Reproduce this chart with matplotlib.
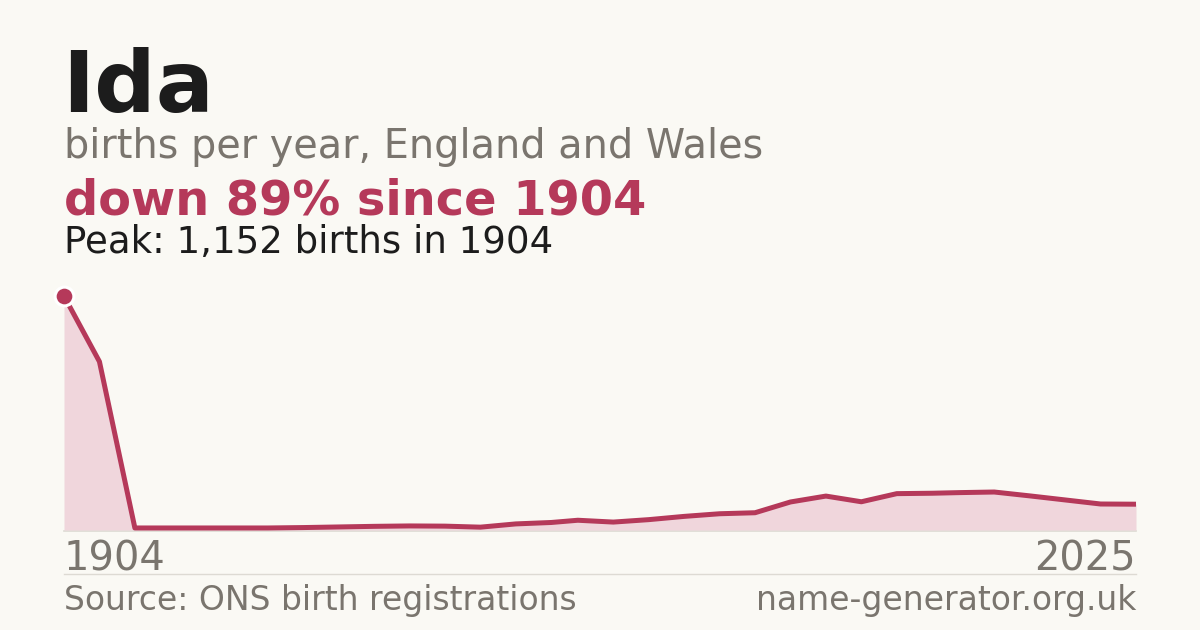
import matplotlib
matplotlib.use("Agg")
import matplotlib.pyplot as plt

# ---- data ----
years = [1904, 1908, 1912, 1916, 1920, 1924, 1927, 1931, 1935, 1939, 1943,
         1947, 1951, 1955, 1959, 1962, 1966, 1970, 1974, 1978, 1982, 1986,
         1990, 1994, 1998, 2002, 2005, 2009, 2013, 2017, 2021, 2025]
births = [1152, 829, 10, 10, 10, 10, 10, 12, 15, 18, 20,
          19, 14, 30, 37, 48, 39, 51, 67, 80, 85, 138,
          167, 139, 179, 181, 184, 187, 168, 148, 128, 127]
name = "Ida"
subtitle = "births per year, England and Wales"
change_text = "down 89% since 1904"
peak_text = "Peak: 1,152 births in 1904"
start_label = "1904"
end_label = "2025"
source_text = "Source: ONS birth registrations"
site_text = "name-generator.org.uk"

# ---- style ----
BG = "#faf9f4"
RED = "#b5395a"
FILL = "#f0d6dc"
GREY = "#7a756e"
DARK = "#1c1c1c"
RULE = "#dddad3"
W, H = 1200, 630

fig = plt.figure(figsize=(12, 6.3), dpi=100, facecolor=BG)

def fx(px):
    return px / W

def fy(py):
    return (H - py) / H

# chart area: x 64..1136, y 530 (zero) .. 296 (peak)
ax = fig.add_axes([fx(64), fy(530), fx(1136) - fx(64), (530 - 296) / H])
ax.set_facecolor("none")
ax.fill_between(years, births, 0, color=FILL, lw=0, zorder=1)
ax.plot(years, births, color=RED, lw=3.6, solid_joinstyle="round",
        solid_capstyle="butt", zorder=3, clip_on=False)
peak_i = births.index(max(births))
ax.plot([years[peak_i]], [births[peak_i]], "o", ms=13.5, mfc=RED, mec="white",
        mew=2.2, zorder=4, clip_on=False)
ax.set_xlim(years[0], years[-1])
ax.set_ylim(0, max(births))
ax.axis("off")

# baseline and rule
fig.add_artist(plt.Line2D([fx(64), fx(1136)], [fy(530.5), fy(530.5)],
                          color=RULE, lw=1.2, zorder=0))
fig.add_artist(plt.Line2D([fx(64), fx(1136)], [fy(574), fy(574)],
                          color=RULE, lw=1.0))

# text
fig.text(fx(62), fy(111.7), name, fontsize=62, fontweight="bold",
         color=DARK, va="baseline", ha="left")
fig.text(fx(64), fy(158.3), subtitle, fontsize=28.6, color=GREY,
         va="baseline", ha="left")
fig.text(fx(64), fy(214.3), change_text, fontsize=34.5, fontweight="bold",
         color=RED, va="baseline", ha="left")
fig.text(fx(64), fy(252.8), peak_text, fontsize=26.7, color=DARK,
         va="baseline", ha="left")
fig.text(fx(64), fy(570.7), start_label, fontsize=28.8, color=GREY,
         va="baseline", ha="left")
fig.text(fx(1136), fy(570.7), end_label, fontsize=28.8, color=GREY,
         va="baseline", ha="right")
fig.text(fx(64), fy(610), source_text, fontsize=23.8, color=GREY,
         va="baseline", ha="left")
fig.text(fx(1136), fy(610), site_text, fontsize=23.8, color=GREY,
         va="baseline", ha="right")

fig.savefig("out.png", dpi=100, facecolor=BG)
